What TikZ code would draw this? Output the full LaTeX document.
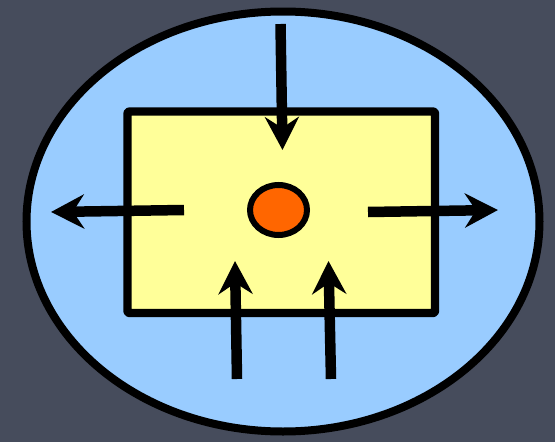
\documentclass[tikz,border=0pt]{standalone}
\usetikzlibrary{arrows.meta,shapes.geometric}
\definecolor{bgslate}{RGB}{70,76,92}
\definecolor{cellblue}{RGB}{153,204,255}
\definecolor{boxyellow}{RGB}{255,255,153}
\definecolor{nucorange}{RGB}{255,102,0}
\tikzset{
  flowarrow/.style={line width=10.5pt, -{Stealth[length=33pt,width=34pt,inset=11pt]}},
}
\begin{document}
\begin{tikzpicture}[x=1pt,y=-1pt]
\fill[bgslate] (0,0) rectangle (555,442);
\useasboundingbox (0,0) rectangle (555,442);
\node[ellipse, draw=black, line width=8pt, fill=cellblue, minimum width=513pt, minimum height=420pt, inner sep=0pt] (cell) at (283,221.5) {};
\node[rectangle, draw=black, line width=8.4pt, fill=boxyellow, line join=round, rounded corners=2pt, minimum width=307.5pt, minimum height=201.5pt, inner sep=0pt] (box) at (281.25,212.25) {};
\node[ellipse, draw=black, line width=6pt, fill=nucorange, minimum width=57pt, minimum height=50pt, inner sep=0pt] (nuc) at (278.5,210) {};
\coordinate (topS) at (280.5,24);
\coordinate (topE) at (282.5,150);
\coordinate (leftS) at (184,210);
\coordinate (leftE) at (51,212);
\coordinate (rightS) at (368,212);
\coordinate (rightE) at (498,210);
\coordinate (blS) at (237,379);
\coordinate (blE) at (235,261);
\coordinate (brS) at (331,379);
\coordinate (brE) at (328.5,261);
\draw[flowarrow] (topS) -- (topE);
\draw[flowarrow] (leftS) -- (leftE);
\draw[flowarrow] (rightS) -- (rightE);
\draw[flowarrow] (blS) -- (blE);
\draw[flowarrow] (brS) -- (brE);
\end{tikzpicture}
\end{document}
